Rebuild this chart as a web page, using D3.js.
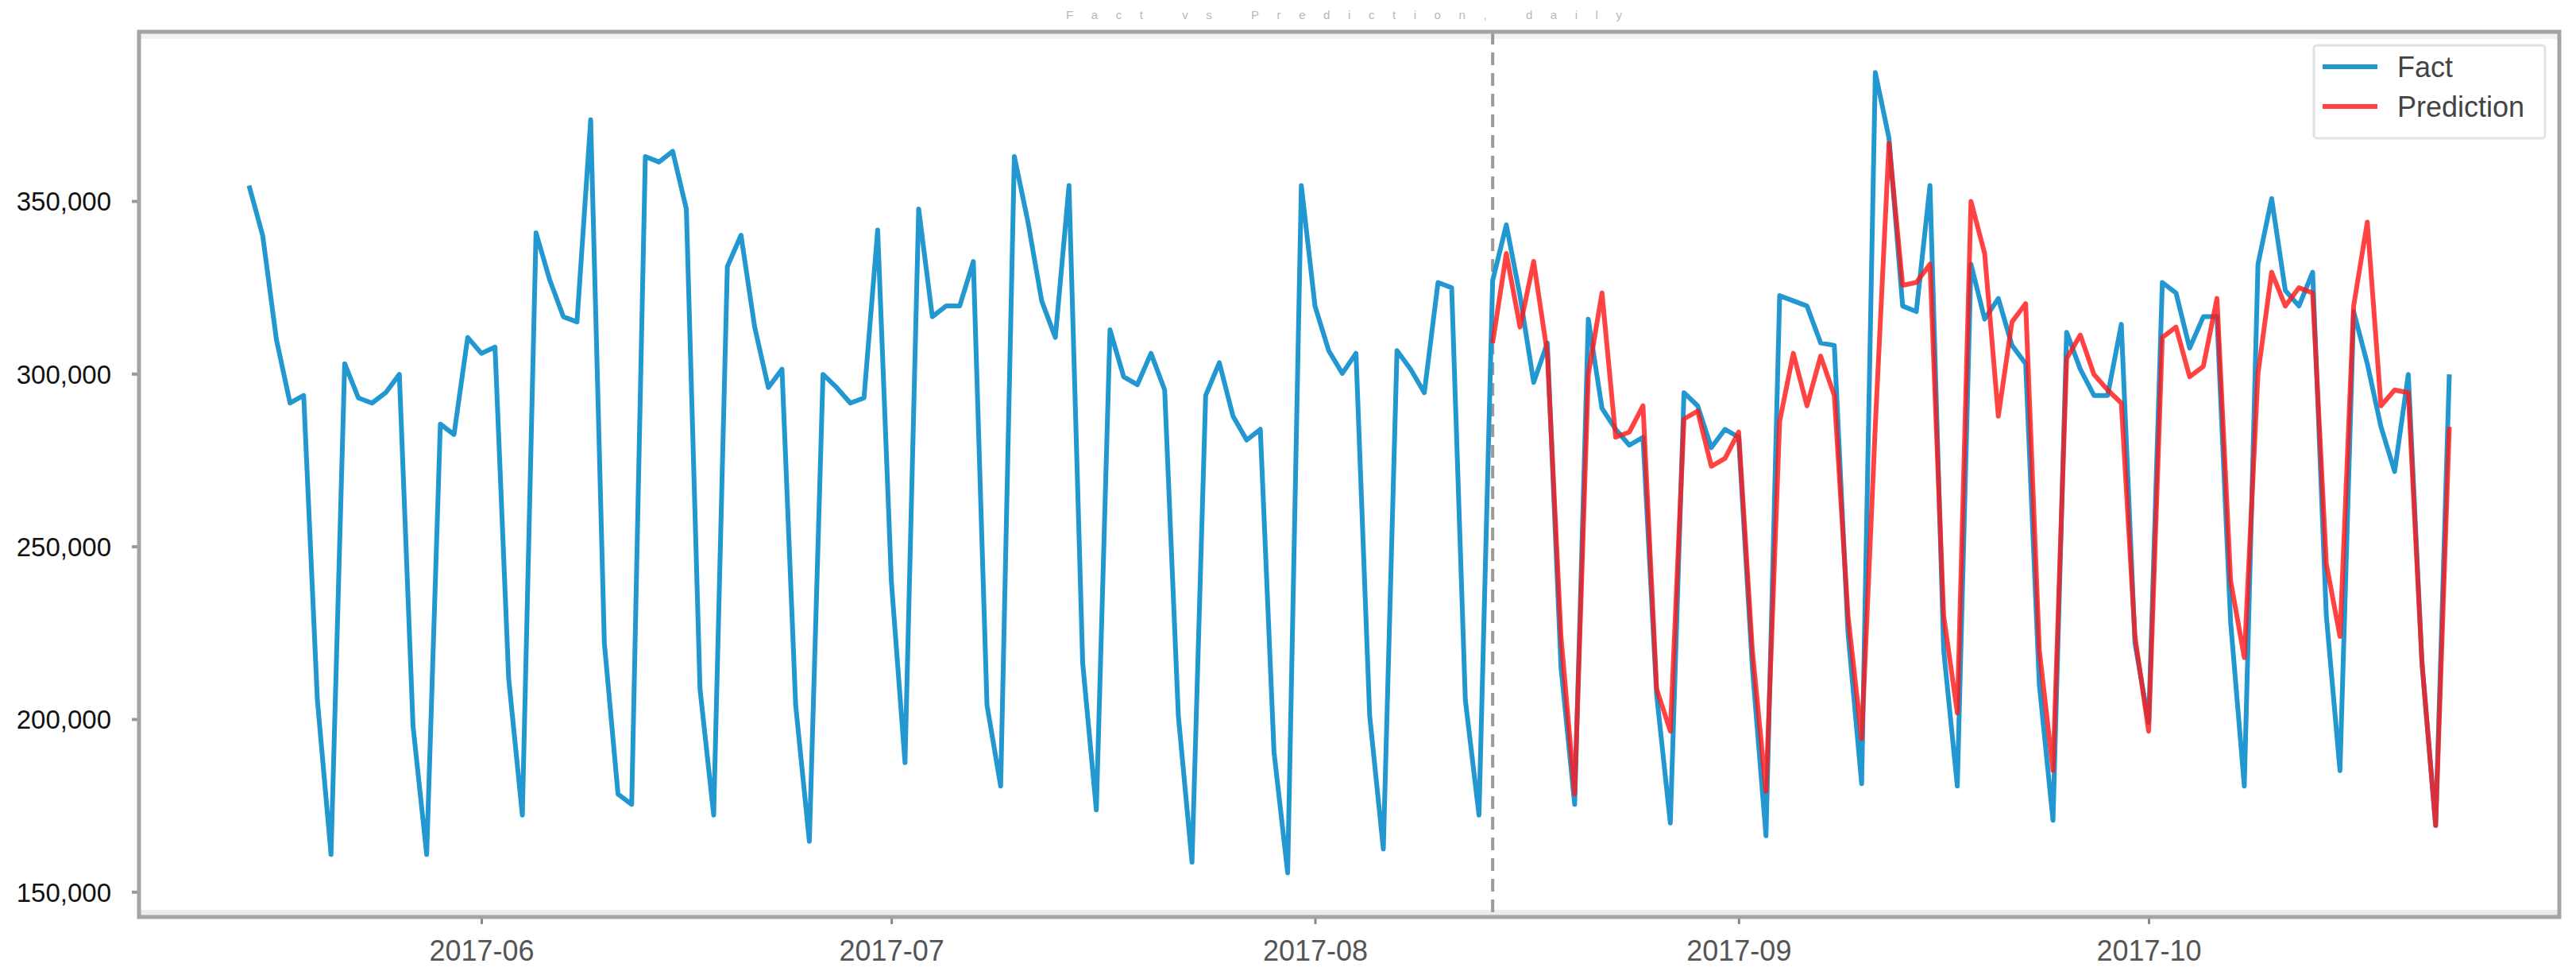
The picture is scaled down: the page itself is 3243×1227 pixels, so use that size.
<!DOCTYPE html>
<html>
<head>
<meta charset="utf-8">
<script src="https://cdnjs.cloudflare.com/ajax/libs/d3/7.8.5/d3.min.js"></script>
<style>
  body { margin: 0; background: #fff; }
  svg text { font-family: "Liberation Sans", Arial, sans-serif; }
  .y.axis text { font-size: 33px; fill: #111; }
  .x.axis text { font-size: 36px; fill: #555; }
  .legend text { font-size: 36px; fill: #444; }
</style>
</head>
<body>
<div id="chart_div"></div>
<script>
// daily series, first day and where the prediction starts
var firstDay = "2017-05-15";
var predFirstIndex = 91; // 2017-08-14

// fact, one value per day from 2017-05-15 to 2017-10-23
var factValues = [
  354500, 340000, 310000, 291500, 293700, 205600, 160800,
  302900, 293000, 291500, 294500, 299800, 198000, 160800,
  285400, 282400, 310500, 305900, 307700, 211700, 172200,
  340800, 327200, 316500, 315000, 373500, 222000, 178300,
  175300, 362900, 361300, 364400, 347700, 208700, 172200,
  331000, 340100, 313500, 296000, 301300, 204000, 164600,
  299800, 296000, 291500, 293000, 341600, 240000, 187400,
  347700, 316500, 319600, 319600, 332500, 204000, 180600,
  362900, 343900, 321100, 310500, 354500, 216300, 173700,
  312700, 299100, 296800, 305900, 295300, 201000, 158600,
  293700, 303200, 287700, 280800, 283900, 190500, 155500,
  354500, 319600, 306700, 300100, 305900, 201000, 162400,
  306700, 301300, 294500, 326400, 324900, 205600, 172200,
  327000, 343100, 322600, 297500, 308900, 215000, 175300,
  315800, 290000, 283900, 279300, 281600, 207000, 169900,
  294500, 290700, 278600, 283900, 281600, 215000, 166200,
  322600, 321100, 319600, 308900, 308200, 225000, 181300,
  387200, 368200, 319600, 318000, 354500, 220000, 180600,
  331700, 315800, 321800, 308200, 302900, 210000, 170700,
  312000, 301300, 293700, 293700, 314300, 222000, 199000,
  326400, 323400, 307400, 316500, 316500, 228000, 180600,
  331700, 350700, 324100, 319600, 329400, 230000, 185100,
  318000, 302900, 284600, 271700, 299800, 216300, 169200,
  299800
];

// prediction, one value per day from 2017-08-14 to 2017-10-23
var predValues = [
  308900, 334800, 313500, 332500, 305900, 223900, 178300,
  299800, 323400, 281600, 283100, 290700, 208700, 196500,
  286900, 289200, 273200, 275500, 283100, 220000, 179100,
  286200, 305900, 290700, 305100, 293700, 230000, 194300,
  285000, 366700, 325600, 326400, 331700, 230000, 201800,
  349900, 334800, 287700, 315000, 320300, 220000, 185100,
  304400, 311200, 299800, 295300, 291500, 223900, 196500,
  310500, 313500, 299100, 302100, 321800, 240000, 217800,
  300000, 329400, 319600, 324900, 323400, 245000, 223900,
  319600, 343900, 290700, 295300, 294500, 216300, 169200,
  284600
];

var yTicks = [150000, 200000, 250000, 300000, 350000];
var yLimits = [142700, 399000];
var seriesNames = ["Fact", "Prediction"];
var seriesColors = ["#2397cf", "#ff1a1a"];

var W = 3243, H = 1227;
var margin = {top: 40, right: 21, bottom: 73, left: 175};
var width = W - margin.left - margin.right,
    height = H - margin.top - margin.bottom;

var parseDate = d3.timeParse("%Y-%m-%d");
var start = parseDate(firstDay);

var fact = factValues.map(function(v, i) {
  return {period: d3.timeDay.offset(start, i), data: v};
});
var pred = predValues.map(function(v, i) {
  return {period: d3.timeDay.offset(start, predFirstIndex + i), data: v};
});

// x range like matplotlib: data extent plus 5% each side
var ext = d3.extent(fact, function(d) { return d.period; });
var pad = (ext[1] - ext[0]) * 0.05;
var x = d3.scaleTime()
  .domain([new Date(+ext[0] - pad), new Date(+ext[1] + pad)])
  .range([0, width]);
var y = d3.scaleLinear().domain(yLimits).range([height, 0]);

var svg = d3.select("#chart_div").append("svg")
  .attr("width", W).attr("height", H)
  .style("display", "block");

svg.append("rect").attr("width", W).attr("height", H).attr("fill", "#fff");

// faint title, unreadable in the source
svg.append("text")
  .attr("x", 1692)
  .attr("y", 24)
  .attr("text-anchor", "middle")
  .attr("textLength", 700)
  .attr("lengthAdjust", "spacing")
  .style("font-size", "15px")
  .style("fill", "#b8b8b8")
  .text("Fact vs Prediction, daily");

var g = svg.append("g")
  .attr("transform", "translate(" + margin.left + "," + margin.top + ")");

// light bands inside the frame, top and bottom
g.append("rect").attr("x", 0).attr("y", 2).attr("width", width).attr("height", 7).attr("fill", "#f1f1f1");
g.append("rect").attr("x", 0).attr("y", height - 9).attr("width", width).attr("height", 7).attr("fill", "#ececec");

// axes
var xAxis = d3.axisBottom(x)
  .ticks(d3.timeMonth.every(1))
  .tickFormat(d3.timeFormat("%Y-%m"))
  .tickSize(9).tickPadding(14);
var yAxis = d3.axisLeft(y)
  .tickValues(yTicks)
  .tickFormat(d3.format(","))
  .tickSize(9).tickPadding(26);

var gx = g.append("g").attr("class", "x axis")
  .attr("transform", "translate(0," + height + ")")
  .call(xAxis);
var gy = g.append("g").attr("class", "y axis").call(yAxis);
gx.select(".domain").remove();
gy.select(".domain").remove();
gx.selectAll(".tick line").attr("stroke", "#888").attr("stroke-width", 3);
gy.selectAll(".tick line").attr("stroke", "#999").attr("stroke-width", 4);
gx.selectAll(".tick text").attr("dy", "0.9em");
gy.selectAll(".tick text").attr("dy", "0.36em");

// split between history and forecast
var splitX = x(pred[0].period);
g.append("line")
  .attr("x1", splitX).attr("x2", splitX)
  .attr("y1", 0).attr("y2", height)
  .attr("stroke", "#9a9a9a")
  .attr("stroke-width", 4)
  .attr("stroke-dasharray", "16,10");

var valueline = d3.line()
  .x(function(d) { return x(d.period); })
  .y(function(d) { return y(d.data); });

g.append("path")
  .datum(fact)
  .attr("fill", "none")
  .attr("stroke", seriesColors[0])
  .attr("stroke-width", 6)
  .attr("stroke-linejoin", "round")
  .attr("d", valueline);

g.append("path")
  .datum(pred)
  .attr("fill", "none")
  .attr("stroke", seriesColors[1])
  .attr("stroke-opacity", 0.82)
  .attr("stroke-width", 6)
  .attr("stroke-linejoin", "round")
  .attr("d", valueline);

// frame
g.append("rect")
  .attr("x", 0).attr("y", 0)
  .attr("width", width).attr("height", height)
  .attr("fill", "none")
  .attr("stroke", "#a4a4a4")
  .attr("stroke-width", 5);

// legend
var lg = g.append("g").attr("class", "legend")
  .attr("transform", "translate(" + (width - 309) + ",17)");
lg.append("rect")
  .attr("width", 291).attr("height", 117)
  .attr("rx", 4)
  .attr("fill", "#fff")
  .attr("stroke", "#e2e2e2")
  .attr("stroke-width", 3);
seriesNames.forEach(function(name, i) {
  var row = lg.append("g").attr("transform", "translate(0," + (27 + i * 50) + ")");
  row.append("line")
    .attr("x1", 11).attr("x2", 80)
    .attr("stroke", seriesColors[i])
    .attr("stroke-opacity", i == 1 ? 0.82 : 1)
    .attr("stroke-width", 6);
  row.append("text")
    .attr("x", 105).attr("dy", "0.35em")
    .text(name);
});
</script>
</body>
</html>
